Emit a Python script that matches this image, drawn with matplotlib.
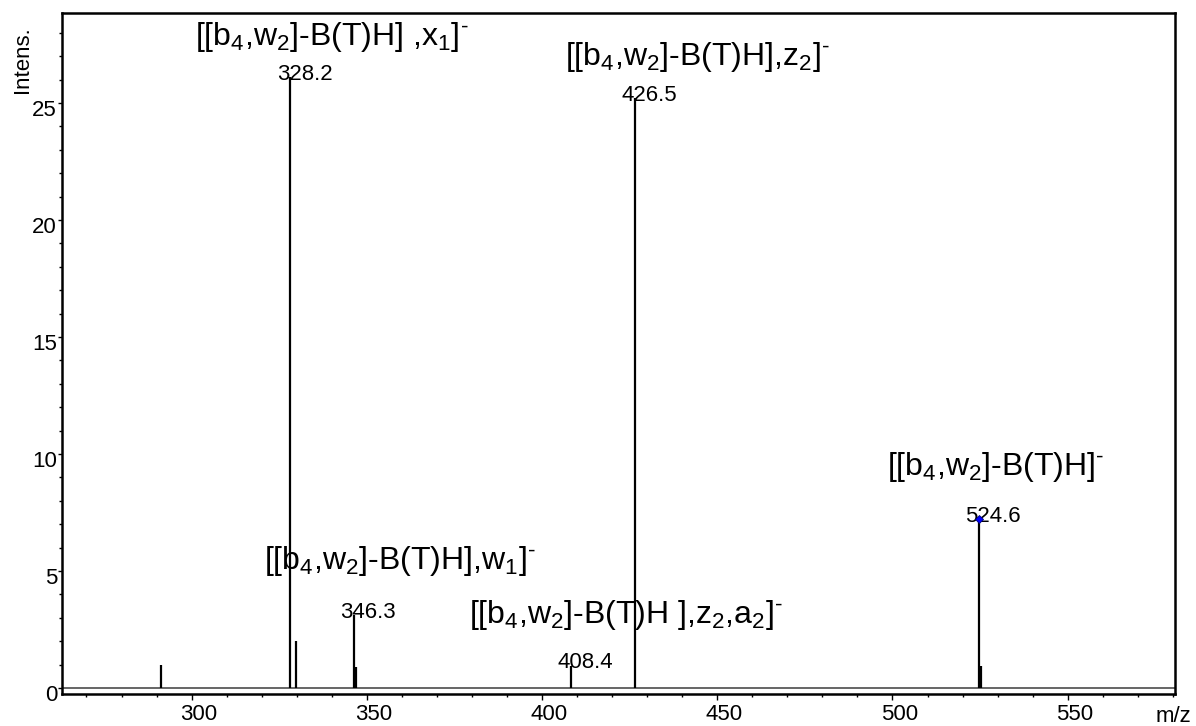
import matplotlib.pyplot as plt
import matplotlib.transforms as mtransforms
from matplotlib.ticker import MultipleLocator

#fonts: arial-like text, math only for the sub/superscripts
plt.rcParams['font.family'] = 'Liberation Sans'
plt.rcParams['mathtext.fontset'] = 'custom'
plt.rcParams['mathtext.rm'] = 'Liberation Sans'
plt.rcParams['mathtext.it'] = 'Liberation Sans:italic'
plt.rcParams['mathtext.default'] = 'regular'

#peak list (m/z, intensity)
peak_mz = [291.4, 328.2, 329.7, 346.3, 346.8, 408.4, 426.5, 524.6, 525.3]
peak_intens = [1.0, 26.1, 2.0, 3.1, 0.9, 0.95, 25.2, 7.2, 0.95]

#peaks that carry a m/z number
label_mz = [328.2, 346.3, 408.4, 426.5, 524.6]
label_intens = [26.1, 3.1, 0.95, 25.2, 7.2]
label_text = ['328.2', '346.3', '408.4', '426.5', '524.6']

#fragment assignments, one per labelled peak
frag_text = [
    r'[[b$_4$,w$_2$]-B(T)H] ,x$_1$]$^{\text{-}}$',
    r'[[b$_4$,w$_2$]-B(T)H],w$_1$]$^{\text{-}}$',
    r'[[b$_4$,w$_2$]-B(T)H ],z$_2$,a$_2$]$^{\text{-}}$',
    r'[[b$_4$,w$_2$]-B(T)H],z$_2$]$^{\text{-}}$',
    r'[[b$_4$,w$_2$]-B(T)H]$^{\text{-}}$',
]

#precursor peak marked with a diamond
marked_mz = 524.6
marked_intens = 7.2

x_ticks = [300, 350, 400, 450, 500, 550]
y_ticks = [0, 5, 10, 15, 20, 25]

#layout: where the fragment text sits relative to its peak top (pixels)
frag_offsets = [(-95, 40), (-90, 54), (-102, 51), (-70, 41), (-92, 52)]

fig = plt.figure(figsize=(11.96, 7.26), dpi=100)
ax = fig.add_axes([0.0518, 0.0441, 0.9306, 0.938])

#baseline and stick peaks
ax.axhline(0, color='#3c3c3c', lw=1.1, zorder=1)
ax.vlines(peak_mz, 0, peak_intens, color='black', lw=1.6, zorder=2)
ax.plot([marked_mz], [marked_intens], 'D', color='#0000ff', ms=4,
        mec='#000080', mew=0.6, zorder=4)

#m/z numbers just above each labelled peak
for mz, inten, txt in zip(label_mz, label_intens, label_text):
    ax.annotate(txt, xy=(mz, inten), xytext=(14, 3), textcoords='offset pixels',
                ha='center', va='center', fontsize=16, zorder=3)

#fragment names
for mz, inten, txt, off in zip(label_mz, label_intens, frag_text, frag_offsets):
    ax.annotate(txt, xy=(mz, inten), xytext=off, textcoords='offset pixels',
                ha='left', va='center', fontsize=23, zorder=3)

ax.set_xlim(263.0, 580.6)
ax.set_ylim(-0.26, 28.85)
ax.set_xticks(x_ticks)
ax.set_yticks(y_ticks)
ax.xaxis.set_minor_locator(MultipleLocator(10))
ax.yaxis.set_minor_locator(MultipleLocator(1))

for side in ['left', 'right', 'top', 'bottom']:
    ax.spines[side].set_linewidth(1.8)

ax.tick_params(axis='x', which='major', direction='out', length=4.5, width=1,
               labelsize=16, pad=3)
ax.tick_params(axis='x', which='minor', direction='out', length=2, width=1)
ax.tick_params(axis='y', which='major', direction='out', length=3, width=1,
               labelsize=16, pad=0.5)
ax.tick_params(axis='y', which='minor', direction='out', length=2.5, width=1)

#tick labels sit a bit off their ticks in the original
shift_x = mtransforms.ScaledTranslation(7 / 100, 0, fig.dpi_scale_trans)
for lbl in ax.get_xticklabels():
    lbl.set_transform(lbl.get_transform() + shift_x)
shift_y = mtransforms.ScaledTranslation(0, -5 / 100, fig.dpi_scale_trans)
for lbl in ax.get_yticklabels():
    lbl.set_transform(lbl.get_transform() + shift_y)

fig.text(22 / 1196, 1 - 60 / 726, 'Intens.', rotation=90, ha='center',
         va='center', fontsize=16)
fig.text(1173 / 1196, 1 - 717 / 726, 'm/z', ha='center', va='center',
         fontsize=16)

fig.savefig('out.png', dpi=100)
